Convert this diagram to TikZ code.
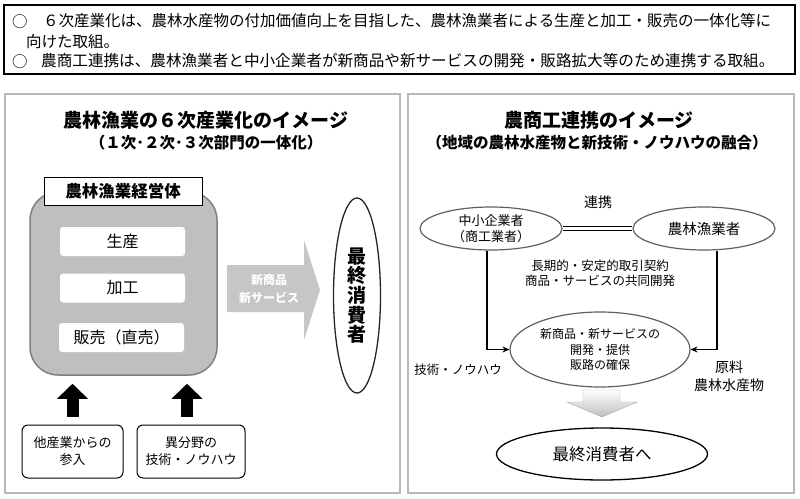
\documentclass[tikz,border=0pt]{standalone}
\usepackage{fontspec}
\setmainfont{Noto Sans CJK JP}
\usetikzlibrary{arrows.meta,shapes.geometric}

\begin{document}
\begin{tikzpicture}[
    x=1pt, y=-1pt,
    lead/.style={font=\fontsize{15.5}{19}\selectfont, inner sep=0pt},
    frame/.style={draw=gray!55, line width=1.3pt},
    title/.style={font=\fontsize{19}{23}\selectfont\bfseries},
    subtitle/.style={font=\fontsize{15.5}{19}\selectfont\bfseries},
    step box/.style={rectangle, rounded corners=3pt, fill=white, minimum width=125pt,
                     minimum height=29pt, font=\fontsize{16}{19}\selectfont},
    entry/.style={rectangle, draw, rounded corners=6pt, line width=1pt, minimum height=53pt,
                  align=center, font=\fontsize{13}{17}\selectfont},
    bigup/.style={line width=12pt, -{Triangle[width=30pt,length=15pt]}, shorten <=8pt, shorten >=8pt},
    oval/.style={ellipse, draw=gray!75!black, line width=1.2pt, fill=white, inner sep=0pt, align=center},
    feed/.style={line width=1.4pt, -{Stealth[length=7pt,width=6pt]}},
    small/.style={font=\fontsize{12.5}{15}\selectfont, align=center}
]
\useasboundingbox (0,0) rectangle (800,498);

%% Leitsaetze
\draw[line width=1.6pt] (4,5) rectangle (795,74);
\node[lead] (b1) at (20,22) {○};
\node[lead, anchor=west] (l1) at (43,21)
      {６次産業化は、農林水産物の付加価値向上を目指した、農林漁業者による生産と加工・販売の一体化等に};
\node[lead, anchor=west] (l2) at (26,42) {向けた取組。};
\node[lead] (b2) at (20,62) {○};
\node[lead, anchor=west, font=\fontsize{15.6}{19}\selectfont] (l3) at (41,61)
      {農商工連携は、農林漁業者と中小企業者が新商品や新サービスの開発・販路拡大等のため連携する取組。};

%% Rahmen
\draw[frame] (5,94) rectangle (400,493);
\draw[frame] (408,94) rectangle (794,493);

%% 6次産業化
\node[title] (t1) at (206,120) {農林漁業の６次産業化のイメージ};
\node[subtitle] (s1) at (206,143) {（１次･２次･３次部門の一体化）};

\node[rectangle, rounded corners=28pt, fill=gray!50, draw=gray, line width=1.5pt,
      minimum width=187pt, minimum height=183pt] (farm) at (123.5,283.5) {};
\node[rectangle, draw, fill=white, line width=1pt, minimum width=158pt, minimum height=28pt,
      font=\fontsize{16.5}{19}\selectfont\bfseries] (head) at (123,191) {農林漁業経営体};
\node[step box] (prod) at (122.5,241.5) {生産};
\node[step box] (proc) at (122.5,288) {加工};
\node[step box] (sale) at (121.5,337.5) {販売（直売）};

\node[entry, minimum width=101pt] (other) at (72.5,451.5) {他産業からの\\参入};
\node[entry, minimum width=108pt] (know) at (191,451.5) {異分野の\\技術・ノウハウ};
\draw[bigup] (other.north) -- (other.north |- farm.south);
\draw[bigup] ([xshift=-4pt]know.north) -- ([xshift=-4pt]know.north |- farm.south);

\fill[gray!45] (227,265) -- (304,265) -- (304,240) -- (320,290) -- (304,340) -- (304,312)
      -- (227,312) -- cycle;
\node[text=white, align=center, font=\fontsize{12}{18}\selectfont\bfseries] (goods) at (269,289)
      {新商品\\新サービス};

\node[ellipse, draw=gray!30!black, line width=1.3pt, minimum width=47pt, minimum height=195pt,
      inner sep=0pt, align=center, font=\fontsize{19}{19.6}\selectfont\bfseries] (cons) at (357,295.5)
      {最\\終\\消\\費\\者};

%% 農商工連携
\node[title] (t2) at (599,120) {農商工連携のイメージ};
\node[subtitle] (s2) at (597,143) {（地域の農林水産物と新技術・ノウハウの融合）};

\node[font=\fontsize{14}{17}\selectfont] (link) at (598,202) {連携};
\node[oval, minimum width=142pt, minimum height=43pt, font=\fontsize{13}{16}\selectfont]
      (sme) at (491,228.5) {中小企業者\\（商工業者）};
\node[oval, minimum width=142pt, minimum height=43pt, font=\fontsize{14.5}{17}\selectfont]
      (farmer) at (704,228.5) {農林漁業者};
\draw[double, double distance=2.5pt, line width=0.9pt] (sme) -- (farmer);

\node[small] (deal) at (600,273) {長期的・安定的取引契約\\商品・サービスの共同開発};
\node[oval, minimum width=180pt, minimum height=75pt, font=\fontsize{12}{15.5}\selectfont]
      (newbiz) at (600,349.5) {新商品・新サービスの\\開発・提供\\販路の確保};
\draw[feed] ([xshift=-4pt]sme.south) |- (newbiz.west);
\draw[feed] ([xshift=13pt]farmer.south) |- (newbiz.east);

\node[small] (tech) at (458,370) {技術・ノウハウ};
\node[align=center, font=\fontsize{14}{18}\selectfont] (raw) at (729,376) {原料\\農林水産物};

\shade[top color=white, bottom color=gray!50, draw=gray!70] (583,390) -- (620,390) -- (620,402)
      -- (637,402) -- (602,417) -- (567,402) -- (583,402) -- cycle;

\node[ellipse, draw, line width=1.3pt, minimum width=211pt, minimum height=52pt, inner sep=0pt,
      font=\fontsize{16.5}{19}\selectfont] (final) at (602,454) {最終消費者へ};

\end{tikzpicture}
\end{document}
